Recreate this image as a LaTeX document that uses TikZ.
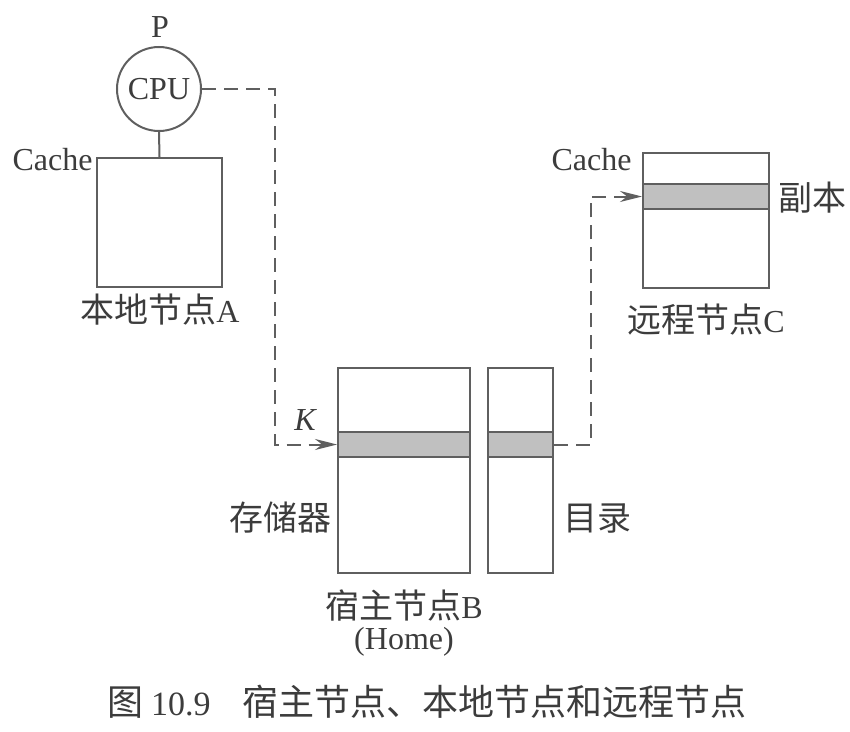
\documentclass[tikz,border=0pt]{standalone}
\usepackage{fontspec}
\setmainfont{Liberation Serif}
\newfontfamily\cjk{Noto Sans CJK SC}
\usetikzlibrary{arrows.meta}
\definecolor{ln}{RGB}{95,95,95}
\definecolor{band}{RGB}{192,192,192}
\definecolor{txt}{RGB}{60,60,60}
\begin{document}
\begin{tikzpicture}[x=0.5bp,y=-0.5bp,
  every node/.style={text=txt,font=\fontsize{16bp}{19bp}\selectfont},
  box/.style={draw=ln,line width=1bp,inner sep=0pt,minimum height=#1},
  blk/.style={draw=ln,line width=1bp,fill=band,inner sep=0pt,minimum height=12.5bp},
  link/.style={draw=ln,line width=1bp,dash pattern=on 7bp off 4bp,-{Stealth[length=11bp,width=5.5bp]}},
  lbl/.style={inner sep=0pt},
  cj/.style={inner sep=0pt,font=\fontsize{17bp}{20bp}\selectfont\cjk}]
\useasboundingbox (0,0) rectangle (850,732);
% node A
\node[draw=ln,line width=1bp,circle,minimum size=42bp,inner sep=0pt] (cpu) at (159,89) {CPU};
\node[lbl] (p) at (160,27) {P};
\node[box=64.5bp,minimum width=62.5bp] (ca) at (159.5,222.5) {};
\draw[ln,line width=1bp] (cpu.south) -- (ca.north);
\node[lbl,anchor=east] (cachea) at (93,160) {Cache};
\node[lbl] (la) at (160,310) {{\fontsize{17bp}{20bp}\selectfont\cjk 本地节点}A};
% node B
\node[box=102.5bp,minimum width=66bp] (mem) at (404,470.5) {};
\node[blk,minimum width=66bp] (mband) at (404,444.5) {};
\node[box=102.5bp,minimum width=32.5bp] (dir) at (520.5,470.5) {};
\node[blk,minimum width=32.5bp] (dband) at (520.5,444.5) {};
\node[lbl] (k) at (305,420) {\itshape K};
\node[cj,anchor=east] (lmem) at (332,518) {存储器};
\node[cj,anchor=west] (ldir) at (563,518) {目录};
\node[lbl] (lb) at (404,605) {{\fontsize{17bp}{20bp}\selectfont\cjk 宿主节点}B};
\node[lbl] (home) at (404,642) {(Home)};
% node C
\node[box=67.5bp,minimum width=63bp] (cc) at (706,220.5) {};
\node[blk,minimum width=63bp] (cband) at (706,196.5) {};
\node[lbl,anchor=east] (cachec) at (632,160) {Cache};
\node[cj,anchor=west] (copy) at (778,198) {副本};
\node[lbl] (lc) at (706,320) {{\fontsize{17bp}{20bp}\selectfont\cjk 远程节点}C};
% connectors
\draw[link] (cpu.east) -- ++(73,0) |- (mband.west);
\draw[link] (dband.east) -- ++(37,0) |- (cband.west);
% caption
\node[lbl] (cap) at (427,702) {{\fontsize{18bp}{21bp}\selectfont\cjk 图}\ {\fontsize{17bp}{20bp}\selectfont 10.9}\quad{\fontsize{18bp}{21bp}\selectfont\cjk 宿主节点、本地节点和远程节点}};
\end{tikzpicture}
\end{document}
